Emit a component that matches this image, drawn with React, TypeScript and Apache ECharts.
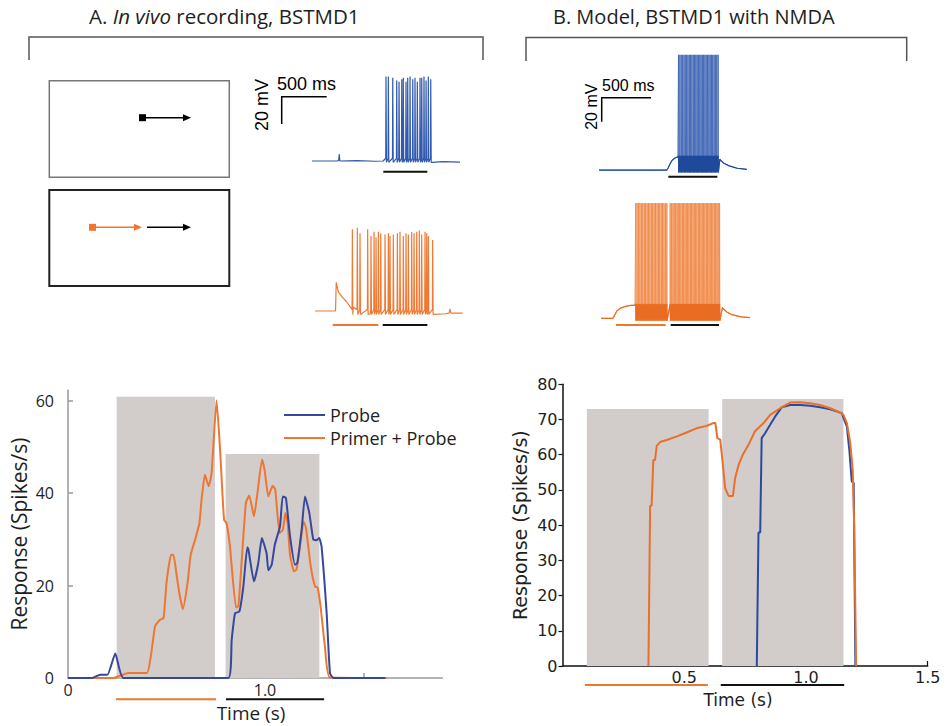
import React, { useEffect, useRef } from "react";
import * as echarts from "echarts";

// ---------- Bottom-left: in vivo response (Spikes/s) ----------
const vivoProbeT = [0, 0.12, 0.164, 0.2, 0.24, 0.281, 0.814, 0.831, 0.848, 0.87, 0.89, 0.91, 0.916, 0.944, 0.966, 0.984, 1.008, 1.017, 1.034, 1.05, 1.076, 1.09, 1.106, 1.127, 1.152, 1.164, 1.186, 1.203, 1.225, 1.245, 1.262, 1.275, 1.287, 1.313, 1.33, 1.348, 1.61];
const vivoProbeV = [0, 0, 0.7, 0.7, 5.3, 0, 0, 8.3, 14, 14.4, 19.8, 28.3, 27.8, 20.9, 24.9, 30.3, 27, 23.3, 24.5, 28.9, 32.8, 39.3, 39, 30.7, 24.5, 24.9, 32.1, 39.3, 35.7, 30, 29.8, 30.3, 28.5, 14, 1, 0, 0];
const vivoPrimerT = [0, 0.23, 0.306, 0.4, 0.442, 0.464, 0.485, 0.5, 0.523, 0.535, 0.55, 0.565, 0.583, 0.607, 0.623, 0.645, 0.667, 0.678, 0.695, 0.714, 0.729, 0.754, 0.771, 0.792, 0.805, 0.822, 0.853, 0.865, 0.881, 0.903, 0.92, 0.944, 0.96, 0.985, 0.998, 1.017, 1.039, 1.052, 1.074, 1.091, 1.103, 1.115, 1.127, 1.147, 1.16, 1.18, 1.196, 1.208, 1.232, 1.254, 1.267, 1.282, 1.304, 1.33, 1.62];
const vivoPrimerV = [0, 0, 1.1, 1.1, 11.2, 12.5, 13, 20.6, 26.7, 26.7, 22.7, 18.4, 14.9, 20.6, 26.7, 29.9, 33.5, 38.6, 44, 41.5, 44.4, 60.1, 50.1, 34.3, 33.5, 28.5, 15.2, 15.6, 24.9, 37.9, 39.5, 35, 39.5, 47.3, 45, 39.3, 41.6, 40.8, 31.4, 32.1, 35.7, 33.5, 26.7, 23.1, 23.5, 29.2, 33.9, 32.5, 24.2, 19.8, 19.6, 15.5, 6.9, 0.1, 0];
const vivoWindows = [[0.247, 0.746, 60.9], [0.8, 1.276, 48.5]]; // [start s, end s, shaded top]
const vivoStimBars = [[0.244, 0.751, 0], [0.802, 1.3, 1]]; // 0 = primer, 1 = probe
const vivoYTicks = [0, 20, 40, 60];
const vivoXTicks = [0.5, 1.0, 1.5];
const vivoXLabels = [0, 1.0];

// ---------- Bottom-right: model response ----------
const modelPrimerT = [0.353, 0.36, 0.366, 0.373, 0.38, 0.387, 0.403, 0.428, 0.47, 0.51, 0.55, 0.592, 0.62, 0.628, 0.636, 0.648, 0.658, 0.668, 0.682, 0.7, 0.709, 0.723, 0.74, 0.764, 0.79, 0.826, 0.853, 0.894, 0.935, 0.976, 1.017, 1.058, 1.1, 1.14, 1.154, 1.168, 1.182, 1.192, 1.198, 1.206];
const modelPrimerV = [0, 45.5, 45.5, 58.5, 58.5, 62.5, 63.7, 64.2, 65.2, 66.3, 67.5, 68.2, 69, 69, 64.7, 64.3, 57.6, 50.5, 48.3, 48.3, 53.3, 57.1, 59.9, 62.8, 66.6, 69, 71.3, 73.2, 74.8, 74.9, 74.6, 74.1, 73.2, 72, 71.3, 69, 63.3, 55.7, 40, 0];
const modelProbeT = [0.798, 0.805, 0.812, 0.818, 0.832, 0.853, 0.873, 0.901, 0.935, 0.976, 1.017, 1.058, 1.1, 1.147, 1.168, 1.178, 1.188, 1.196, 1.203];
const modelProbeV = [0, 37.9, 37.9, 64.7, 66.1, 68.5, 70.8, 73.5, 74.1, 74.1, 73.9, 73.5, 72.9, 71.8, 68, 61.4, 52.4, 52, 0];
const modelWindows = [[0.1, 0.6, 73], [0.656, 1.154, 75.8]];
const modelStimBars = [[0.092, 0.597, 0], [0.65, 1.157, 1]];
const modelXTicks = [0.5, 1.0, 1.5];

// ---------- Top: membrane potential traces (ms, mV) ----------
const vivoProbeBaseT = [0, 280, 296, 303, 309, 500, 700, 790, 1340, 1450, 1644];
const vivoProbeBaseV = [0, 0, 0.5, 5, 0, 0.3, -0.2, 0, -1, -0.5, -0.8];
const vivoProbeSpikes = [822, 848, 897, 941, 967, 997, 1014, 1044, 1063, 1089, 1119, 1144, 1170, 1200, 1219, 1244, 1267, 1292, 1319];
const vivoProbePeaks = [62, 62, 61, 59, 58, 60, 61, 58, 61, 62, 60, 61, 58, 61, 61, 62, 59, 62, 60];
const vivoProbeTraceBars = [[792, 1281, 1]];

const vivoPrimerBaseT = [0, 228, 236, 259, 297, 352, 426, 574, 611, 1320, 1450, 1490, 1500, 1510, 1640];
const vivoPrimerBaseV = [0, 0, 21, 14, 10.5, 6.8, 2.7, 0.7, -2.2, -2.5, -2, -1.5, 1.5, -1.5, -1.5];
const vivoPrimerSpikes = [415, 470, 500, 585, 622, 656, 678, 704, 730, 778, 815, 833, 870, 915, 944, 981, 1011, 1037, 1074, 1100, 1130, 1159, 1185, 1222, 1241, 1259, 1307];
const vivoPrimerPeaks = [60, 61, 57, 60, 55, 58, 54, 58, 57, 56, 57, 55, 56, 57, 58, 55, 57, 56, 58, 57, 58, 59, 56, 58, 57, 55, 52];
const vivoPrimerTraceBars = [[197, 704, 0], [752, 1248, 1]];

const modelProbeBaseT = [0, 687, 700, 720, 740, 770, 800, 1225, 1240, 1270, 1320, 1400, 1498];
const modelProbeBaseV = [0, 0, 1.5, 5, 8, 10, 11, 9, 7.5, 5.5, 3.5, 1.5, 0.6];
const modelProbeSpikes = [806, 820, 834, 848, 862, 875, 889, 902, 916, 929, 942, 956, 969, 982, 995, 1008, 1022, 1035, 1048, 1061, 1074, 1087, 1100, 1114, 1127, 1140, 1153, 1167, 1180, 1194, 1208];
const modelProbePeak = 96;
const modelProbeTraceBars = [[703, 1200, 1]];

const modelPrimerBaseT = [0, 122, 135, 160, 200, 250, 300, 345, 1232, 1245, 1280, 1330, 1420, 1511];
const modelPrimerBaseV = [0, 0, 2, 6, 8.5, 10, 10.8, 11, 9, 7.5, 5, 3, 1.2, 0.5];
const modelPrimerSpikes = [352, 366, 381, 395, 410, 424, 439, 453, 468, 482, 496, 511, 525, 539, 553, 568, 582, 596, 611, 625, 639, 654, 668, 702, 716, 730, 743, 757, 771, 784, 798, 811, 825, 838, 852, 865, 879, 892, 906, 919, 933, 946, 960, 973, 987, 1000, 1014, 1027, 1041, 1054, 1068, 1081, 1095, 1108, 1122, 1135, 1149, 1162, 1176, 1189, 1203];
const modelPrimerPeak = 96;
const modelPrimerTraceBars = [[152, 656, 0], [707, 1197, 1]];
// level (mV) up to which the dense after-hyperpolarisation band is drawn darker
const modelBandTop = 12;

// ---------- styling ----------
const ORANGE = "#ee7630";
const BLUE_L = "#36479e";
const BLUE_R = "#2b4a9e";
const TRACE_BLUE = "#3159ad";
const TRACE_ORANGE = "#ef7a35";
const SPIKE_BLUE = "#4167b6";
const SPIKE_ORANGE = "#f08a4a";
const BAND_BLUE = "#1f4a9c";
const BAND_ORANGE = "#e96c22";
const SHADE = "#d2cccb";
const TXT = "#1e1e1e";
const LEFT_FONT = '"Open Sans", sans-serif';
const SCALE_FONT = '"Liberation Sans", Arial, sans-serif';
const RIGHT_FONT = '"DejaVu Sans", sans-serif';

const pairs = (t: number[], v: number[]) => t.map((x, i) => [x, v[i]]);

function buildTrace(
  bt: number[], bv: number[], spikes: number[], peaks: number[] | number,
  thr: number, trough: number, rise: number, fall: number
) {
  const pts: number[][] = pairs(bt, bv);
  spikes.forEach((t, i) => {
    const pk = Array.isArray(peaks) ? peaks[i] : peaks;
    pts.push([t - rise, thr], [t, pk], [t + fall, trough]);
  });
  pts.sort((a, b) => a[0] - b[0]);
  return pts;
}

const shadeRender = (params: any, api: any) => {
  const p0 = api.coord([api.value(0), api.value(2)]);
  const p1 = api.coord([api.value(1), 0]);
  return {
    type: "rect",
    shape: { x: p0[0], y: p0[1], width: p1[0] - p0[0], height: p1[1] - p0[1] },
    style: { fill: SHADE },
  };
};

const barRender = (offset: number) => (params: any, api: any) => {
  const p0 = api.coord([api.value(0), 0]);
  const p1 = api.coord([api.value(1), 0]);
  const y = p0[1] + offset;
  return {
    type: "line",
    shape: { x1: p0[0], y1: y, x2: p1[0], y2: y },
    style: { stroke: api.value(2) === 0 ? ORANGE : "#111", lineWidth: 2 },
  };
};

export default function App() {
  const ref = useRef<HTMLDivElement>(null);

  useEffect(() => {
    if (!ref.current) return;
    const chart = echarts.init(ref.current, null, { renderer: "svg" });

    const hiddenX = (gi: number, max: number) => ({ type: "value", gridIndex: gi, min: 0, max, show: false });
    const hiddenY = (gi: number, min: number, max: number) => ({ type: "value", gridIndex: gi, min, max, show: false });
    const traceLine = (name: string, gi: number, data: number[][], color: string, width: number, opacity = 1, z = 2) => ({
      type: "line", name, xAxisIndex: gi, yAxisIndex: gi, data, z,
      showSymbol: false, symbol: "none", silent: true,
      lineStyle: { color, width, opacity },
    });

    const option: any = {
      animation: false,
      backgroundColor: "#ffffff",
      grid: [
        { left: 68, top: 390.2, width: 374.3, height: 287.8, outerBoundsMode: "none" },
        { left: 562.5, top: 384.3, width: 365.2, height: 281.7, outerBoundsMode: "none" },
        { left: 312, top: 70, width: 148, height: 100, outerBoundsMode: "none" },
        { left: 315, top: 220, width: 148, height: 100, outerBoundsMode: "none" },
        { left: 599, top: 45, width: 150, height: 135, outerBoundsMode: "none" },
        { left: 601, top: 195, width: 152, height: 135, outerBoundsMode: "none" },
      ],
      xAxis: [
        {
          type: "value", gridIndex: 0, min: 0, max: 1.9,
          axisLine: { lineStyle: { color: "#9a9a9a", width: 1.5 } },
          axisTick: { show: true, inside: true, length: 5, customValues: vivoXTicks, lineStyle: { color: "#9a9a9a", width: 1.5 } },
          axisLabel: {
            customValues: vivoXLabels, margin: 4, color: TXT, fontSize: 16, fontFamily: LEFT_FONT,
            formatter: (v: number) => (v === 0 ? "0" : v.toFixed(1)),
          },
          splitLine: { show: false },
        },
        {
          type: "value", gridIndex: 1, min: 0, max: 1.5,
          axisLine: { lineStyle: { color: "#111", width: 1.5 } },
          axisTick: { show: true, inside: true, length: 5, customValues: modelXTicks, lineStyle: { color: "#111", width: 1.2 } },
          axisLabel: {
            customValues: modelXTicks, margin: 3, color: TXT, fontSize: 16, fontFamily: RIGHT_FONT,
            formatter: (v: number) => v.toFixed(1),
          },
          splitLine: { show: false },
        },
        hiddenX(2, 1644),
        hiddenX(3, 1644),
        hiddenX(4, 1521),
        hiddenX(5, 1542),
      ],
      yAxis: [
        {
          type: "value", gridIndex: 0, min: 0, max: 62.3,
          name: "Response (Spikes/s)", nameLocation: "middle", nameGap: 39,
          nameTextStyle: { fontSize: 21, fontFamily: LEFT_FONT, color: TXT },
          axisLine: { show: true, lineStyle: { color: "#9a9a9a", width: 1.5 } },
          axisTick: { show: true, inside: true, length: 5, customValues: vivoYTicks, lineStyle: { color: "#9a9a9a", width: 1.5 } },
          axisLabel: { customValues: vivoYTicks, margin: 14, color: TXT, fontSize: 16, fontFamily: LEFT_FONT },
          splitLine: { show: false },
        },
        {
          type: "value", gridIndex: 1, min: 0, max: 80, interval: 10,
          name: "Response (Spikes/s)", nameLocation: "middle", nameGap: 33,
          nameTextStyle: { fontSize: 19, fontFamily: RIGHT_FONT, color: TXT },
          axisLine: { show: true, lineStyle: { color: "#111", width: 1.5 } },
          axisTick: { show: true, inside: false, length: 4, lineStyle: { color: "#111", width: 1.2 } },
          axisLabel: { margin: 5, color: TXT, fontSize: 16, fontFamily: RIGHT_FONT },
          splitLine: { show: false },
        },
        hiddenY(2, -6.6, 66.7),
        hiddenY(3, -6.6, 66.7),
        hiddenY(4, -8.3, 104.2),
        hiddenY(5, -9.75, 102.75),
      ],
      legend: {
        data: ["Probe", "Primer + Probe"],
        orient: "vertical", left: 279, top: 400, itemGap: 3,
        icon: "rect", itemWidth: 41, itemHeight: 2,
        textStyle: { fontSize: 18, fontFamily: LEFT_FONT, color: TXT, lineHeight: 20 },
      },
      series: [
        // bottom-left
        { type: "custom", name: "vivoWindows", xAxisIndex: 0, yAxisIndex: 0, z: 1, renderItem: shadeRender, data: vivoWindows, silent: true },
        { type: "custom", name: "vivoBars", xAxisIndex: 0, yAxisIndex: 0, z: 1, clip: false, renderItem: barRender(21.3), data: vivoStimBars, silent: true },
        { type: "line", name: "Probe", xAxisIndex: 0, yAxisIndex: 0, z: 3, data: pairs(vivoProbeT, vivoProbeV), showSymbol: false, symbol: "none", smooth: 0.15, color: BLUE_L, lineStyle: { color: BLUE_L, width: 2 } },
        { type: "line", name: "Primer + Probe", xAxisIndex: 0, yAxisIndex: 0, z: 2, data: pairs(vivoPrimerT, vivoPrimerV), showSymbol: false, symbol: "none", smooth: 0.15, color: ORANGE, lineStyle: { color: ORANGE, width: 2 } },
        // bottom-right
        { type: "custom", name: "modelWindows", xAxisIndex: 1, yAxisIndex: 1, z: 1, renderItem: shadeRender, data: modelWindows, silent: true },
        { type: "custom", name: "modelBars", xAxisIndex: 1, yAxisIndex: 1, z: 1, clip: false, renderItem: barRender(19), data: modelStimBars, silent: true },
        { type: "line", name: "Probe (model)", xAxisIndex: 1, yAxisIndex: 1, z: 2, data: pairs(modelProbeT, modelProbeV), showSymbol: false, symbol: "none", lineStyle: { color: BLUE_R, width: 2 } },
        { type: "line", name: "Primer + Probe (model)", xAxisIndex: 1, yAxisIndex: 1, z: 3, data: pairs(modelPrimerT, modelPrimerV), showSymbol: false, symbol: "none", lineStyle: { color: "#e8702c", width: 2 } },
        // in vivo traces
        traceLine("vivoProbeTrace", 2, buildTrace(vivoProbeBaseT, vivoProbeBaseV, vivoProbeSpikes, vivoProbePeaks, 2, -1, 3, 5), TRACE_BLUE, 1.2),
        { type: "custom", name: "vivoProbeTraceBars", xAxisIndex: 2, yAxisIndex: 2, clip: false, renderItem: barRender(10.7), data: vivoProbeTraceBars, silent: true },
        traceLine("vivoPrimerTrace", 3, buildTrace(vivoPrimerBaseT, vivoPrimerBaseV, vivoPrimerSpikes, vivoPrimerPeaks, 1, -2.5, 3, 5), TRACE_ORANGE, 1.2),
        { type: "custom", name: "vivoPrimerTraceBars", xAxisIndex: 3, yAxisIndex: 3, clip: false, renderItem: barRender(14), data: vivoPrimerTraceBars, silent: true },
        // model traces: spikes + darker dense band near the trough
        traceLine("modelProbeTrace", 4, buildTrace(modelProbeBaseT, modelProbeBaseV, modelProbeSpikes, modelProbePeak, 11, -2, 2, 2.5), SPIKE_BLUE, 0.9),
        traceLine("modelProbeBand", 4, buildTrace(modelProbeBaseT, modelProbeBaseV, modelProbeSpikes, modelBandTop, 11, -2, 2, 2.5), BAND_BLUE, 1.2, 1, 3),
        { type: "custom", name: "modelProbeTraceBars", xAxisIndex: 4, yAxisIndex: 4, clip: false, renderItem: barRender(6.7), data: modelProbeTraceBars, silent: true },
        traceLine("modelPrimerTrace", 5, buildTrace(modelPrimerBaseT, modelPrimerBaseV, modelPrimerSpikes, modelPrimerPeak, 11, -2, 2, 2.5), SPIKE_ORANGE, 0.9),
        traceLine("modelPrimerBand", 5, buildTrace(modelPrimerBaseT, modelPrimerBaseV, modelPrimerSpikes, modelBandTop, 11, -2, 2, 2.5), BAND_ORANGE, 1.2, 1, 3),
        { type: "custom", name: "modelPrimerTraceBars", xAxisIndex: 5, yAxisIndex: 5, clip: false, renderItem: barRender(6.7), data: modelPrimerTraceBars, silent: true },
      ],
      graphic: [
        // titles
        {
          type: "text", x: 89, y: 16,
          style: {
            text: "{n|A. }{i|In vivo}{n| recording, BSTMD1}",
            verticalAlign: "middle", align: "left",
            rich: {
              n: { fontSize: 20.5, fontFamily: LEFT_FONT, fill: TXT },
              i: { fontSize: 20.5, fontFamily: LEFT_FONT, fontStyle: "italic", fill: TXT },
            },
          },
        },
        { type: "text", x: 553, y: 16, style: { text: "B. Model, BSTMD1 with NMDA", fontSize: 20, fontFamily: LEFT_FONT, fill: TXT, align: "left", verticalAlign: "middle" } },
        // brackets
        { type: "polyline", shape: { points: [[29, 60], [29, 37], [483, 37], [483, 60]] }, style: { stroke: "#555", lineWidth: 1.5, fill: null } },
        { type: "polyline", shape: { points: [[526, 61], [526, 37.5], [906.7, 37.5], [906.7, 61]] }, style: { stroke: "#555", lineWidth: 1.5, fill: null } },
        // stimulus diagrams
        { type: "rect", shape: { x: 49.3, y: 80.7, width: 180, height: 96.6 }, style: { fill: "#fff", stroke: "#777", lineWidth: 1.5 } },
        { type: "rect", shape: { x: 49.3, y: 190, width: 180, height: 96 }, style: { fill: "#fff", stroke: "#222", lineWidth: 2 } },
        { type: "rect", shape: { x: 139, y: 114.2, width: 7, height: 7 }, style: { fill: "#000" } },
        { type: "line", shape: { x1: 145, y1: 117.7, x2: 186, y2: 117.7 }, style: { stroke: "#000", lineWidth: 1.5 } },
        { type: "polygon", shape: { points: [[183, 114.2], [191, 117.7], [183, 121.2]] }, style: { fill: "#000" } },
        { type: "rect", shape: { x: 89, y: 223.8, width: 7, height: 7 }, style: { fill: ORANGE } },
        { type: "line", shape: { x1: 95, y1: 227.3, x2: 137, y2: 227.3 }, style: { stroke: ORANGE, lineWidth: 1.5 } },
        { type: "polygon", shape: { points: [[134, 223.8], [142, 227.3], [134, 230.8]] }, style: { fill: ORANGE } },
        { type: "line", shape: { x1: 147, y1: 227.3, x2: 186, y2: 227.3 }, style: { stroke: "#000", lineWidth: 1.5 } },
        { type: "polygon", shape: { points: [[183, 223.8], [191, 227.3], [183, 230.8]] }, style: { fill: "#000" } },
        // scale bars
        { type: "polyline", shape: { points: [[281.7, 124], [281.7, 96.7], [326.7, 96.7]] }, style: { stroke: "#000", lineWidth: 1.5, fill: null } },
        { type: "text", x: 277, y: 84, style: { text: "500 ms", fontSize: 18, fontFamily: SCALE_FONT, fill: "#000", align: "left", verticalAlign: "middle" } },
        { type: "text", x: 262, y: 105, rotation: Math.PI / 2, style: { text: "20 mV", fontSize: 18, fontFamily: SCALE_FONT, fill: "#000", align: "center", verticalAlign: "middle" } },
        { type: "polyline", shape: { points: [[601.7, 121.7], [601.7, 97.7], [651, 97.7]] }, style: { stroke: "#000", lineWidth: 1.5, fill: null } },
        { type: "text", x: 602, y: 85.5, style: { text: "500 ms", fontSize: 16, fontFamily: SCALE_FONT, fill: "#000", align: "left", verticalAlign: "middle" } },
        { type: "text", x: 591, y: 106.7, rotation: Math.PI / 2, style: { text: "20 mV", fontSize: 16, fontFamily: SCALE_FONT, fill: "#000", align: "center", verticalAlign: "middle" } },
        // axis titles
        { type: "text", x: 251, y: 713, style: { text: "Time (s)", fontSize: 19, fontFamily: LEFT_FONT, fill: TXT, align: "center", verticalAlign: "middle" } },
        { type: "text", x: 738, y: 700, style: { text: "Time (s)", fontSize: 17, fontFamily: RIGHT_FONT, fill: TXT, align: "center", verticalAlign: "middle" } },
      ],
    };

    chart.setOption(option);
    return () => chart.dispose();
  }, []);

  return (
    <div
      ref={ref}
      style={{ position: "fixed", left: 0, top: 0, width: 947, height: 726, background: "#fff" }}
    />
  );
}
